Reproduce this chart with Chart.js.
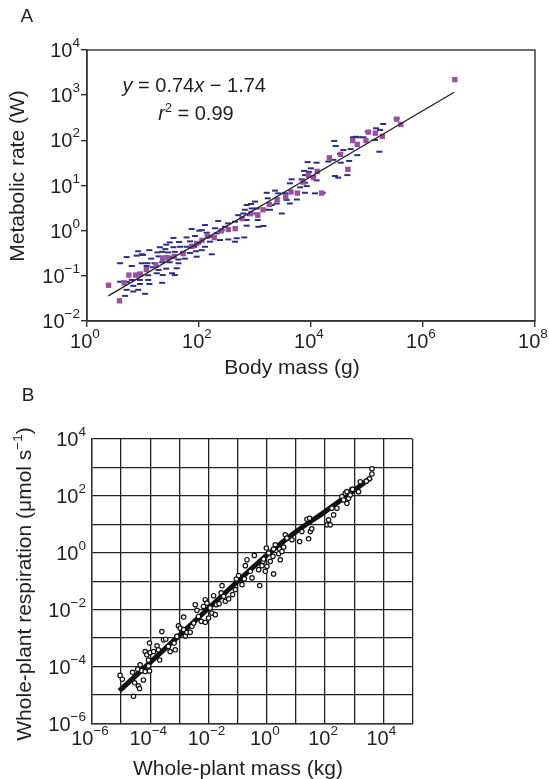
<!DOCTYPE html>
<html>
<head>
<meta charset="utf-8">
<script src="https://cdn.jsdelivr.net/npm/chart.js@4.4.0/dist/chart.umd.min.js"></script>
<style>
  html, body { margin: 0; padding: 0; background: #fff; }
  #wrap { position: relative; width: 549px; height: 779px; overflow: hidden; }
  canvas { position: absolute; left: 0; }
  #chartA { top: 0; }
  #chartB { top: 385px; }
</style>
</head>
<body>
<div id="wrap">
  <canvas id="chartA" width="549" height="385"></canvas>
  <canvas id="chartB" width="549" height="394"></canvas>
</div>
<script>
// ---- Panel A: body mass (g) vs metabolic rate (W) ----
const aXTicks = [1, 1e2, 1e4, 1e6, 1e8];
const aYTicks = [1e-2, 1e-1, 1, 1e1, 1e2, 1e3, 1e4];

// blue dashes [mass g, rate W]
const blueDashes = [
  [74,1.09],[101,1.0],[35,0.69],[60,0.71],[85,0.76],[30,0.55],[44,0.56],[69,0.58],[26,0.49],[20,0.43],
  [25,0.39],[35,0.43],[46,0.44],[60,0.44],[82,0.44],[88,0.35],[22,0.34],[28,0.33],[37,0.34],[52,0.34],
  [69,0.32],[13,0.37],[18,0.33],[8.2,0.35],[10,0.29],[14,0.24],[19,0.27],[25,0.27],[33,0.26],[43,0.23],
  [56,0.24],[5.1,0.26],[7.7,0.28],[9.5,0.3],[9.5,0.19],[12,0.19],[16,0.19],[22,0.2],[30,0.2],[43,0.19],
  [3.9,0.19],[6.3,0.165],[11.6,0.165],[15,0.155],[19,0.135],[26,0.144],[40,0.147],[33,0.114],[8.8,0.117],[12.4,0.103],
  [17.6,0.114],[22.5,0.104],[3.9,0.074],[5.1,0.073],[6.3,0.081],[8.8,0.081],[12.4,0.081],[6.7,0.06],[8.8,0.066],[13,0.066],
  [5.1,0.049],[8.2,0.049],[6.7,0.045],[10.9,0.04],[4.8,0.036],[22,0.07],[37,0.104],
  [8700,33],[12600,32],[10000,24],[9200,20],[12600,13],[8400,9.7],[11800,6.7],[6800,13.7],[4500,13.7],[4200,11.2],
  [6400,9.1],[5600,4.9],[7800,6.9],[3000,2.4],[1620,6.9],[1690,5.2],[2280,7.7],[2600,6.7],[3430,6.7],[3680,4.8],
  [2440,4.0],[1990,3.7],[1850,2.9],[4200,4.0],[1000,4.4],[850,3.9],[710,3.7],[870,3.1],[1070,3.1],[660,2.9],
  [810,2.2],[1070,2.4],[500,2.2],[620,2.4],[1510,2.9],[710,1.72],[1120,1.72],[710,1.29],[1410,1.27],[1150,1.22],
  [440,1.58],[330,1.45],[220,1.64],[290,1.22],[193,1.13],[254,1.03],[128,1.33],[112,1.03],[137,0.9],[207,0.87],
  [169,0.73],[334,0.64],[471,0.68],[644,0.71],[440,0.57],[237,0.62],[157,0.57],[128,0.44],[97,0.52],[112,0.37],
  [91,0.265],[169,0.3],
  [195000,230],[339000,308],[145000,185],[171000,169],[139000,102],[166000,56],[86000,117],[63000,120],[56000,117],[70000,117],
  [103000,155],[26000,97],[27600,75],[37800,61],[51000,64],[67000,47],[48000,35],[33000,50],[34000,32],[20400,34],
  [25000,37],[7500,21],[7800,17],[26800,16.2],[30700,14.9],[44500,17],[7800,11.5],[16200,6.9]
];

// purple squares [mass g, rate W]
const purpleSquares = [
  [2.43,0.062],[3.8,0.028],[4.6,0.07],[5.6,0.104],[7.4,0.104],[9.0,0.109],[11.5,0.138],[17,0.172],[22.5,0.24],[28,0.25],
  [36,0.27],[52,0.31],[74,0.45],[91,0.52],[113,0.61],[141,0.75],[187,0.70],[250,0.99],[333,1.06],[443,1.11],
  [590,1.85],[845,2.4],[1120,2.19],[1390,2.9],[1800,3.8],[2480,4.9],[3540,5.6],[4390,7.2],[5690,6.8],[7260,11.9],
  [9000,16.7],[11100,14.9],[12900,20.5],[15500,6.8],[21300,41],[33700,49],[45500,22.7],[55600,99],[67000,81],[95800,99],
  [106000,152],[141000,144],[188000,122],[338000,294],[402000,224],[3700000,2210]
];

// fitted line ends
const aFitMass = [2.4, 3.6e6];
const aFitRate = [0.036, 1160];

// ---- Panel B: whole-plant mass (kg) vs respiration (umol/s) ----
const bXTicks = [1e-6, 1e-5, 1e-4, 1e-3, 1e-2, 1e-1, 1, 1e1, 1e2, 1e3, 1e4, 1e5];
const bYTicks = [1e-6, 1e-5, 1e-4, 1e-3, 1e-2, 1e-1, 1, 1e1, 1e2, 1e3, 1e4];
const bXLabels = [1e-6, 1e-4, 1e-2, 1, 1e2, 1e4];
const bYLabels = [1e-6, 1e-4, 1e-2, 1, 1e2, 1e4];

const plantPoints = [
  [9.2e-6,4.9e-5],[1.1e-5,3.6e-5],[2.45e-5,6.3e-5],[3.7e-5,8.1e-5],[4.5e-5,1.15e-4],[5.1e-5,7.2e-5],[6.7e-5,6.7e-5],[8.7e-5,1.06e-4],
  [2.9e-5,2.7e-5],[3.9e-5,2.1e-5],[4.3e-5,1.7e-5],[5.8e-5,3.4e-5],[2.65e-5,9.0e-6],[9.4e-5,7.0e-5],[9.4e-5,6.7e-4],[6.7e-5,3.4e-4],
  [7.6e-5,2.6e-4],[8.7e-5,1.7e-4],[9.9e-5,3.1e-4],[1.3e-4,3.4e-4],[1.7e-4,5.4e-4],[1.9e-4,3.9e-4],[2.1e-4,1.7e-4],[2.5e-4,1.7e-3],
  [2.85e-4,8.7e-4],[3.4e-4,9.2e-4],[4.2e-4,5.1e-4],[4.8e-4,3.4e-4],[7.2e-4,3.9e-4],[6.6e-4,6.7e-4],[8.2e-4,1.15e-3],[9.3e-4,2.7e-3],
  [1.07e-3,2.25e-3],[1.4e-3,2.0e-3],[1.4e-3,5.5e-3],[1.6e-3,1.2e-3],[1.8e-3,1.6e-3],[2.35e-3,1.6e-3],[2.7e-3,2.6e-3],[3.1e-3,3.4e-3],
  [3.5e-3,0.015],[4.0e-3,9.5e-3],[4.5e-3,5.8e-3],[5.6e-3,3.9e-3],[6.7e-3,0.013],[7.7e-3,0.0225],[8.8e-3,0.017],[0.0114,0.0115],
  [0.013,7.6e-3],[0.0149,0.031],[0.017,6.7e-3],[7.7e-3,3.6e-3],[0.0184,0.015],[0.023,0.0163],[0.027,0.039],[0.033,0.0296],
  [0.029,0.070],[0.0375,0.0197],[0.049,0.024],[0.067,0.034],[0.083,0.051],[0.01,5.1e-3],
  [0.09,0.12],[0.108,0.158],[0.141,0.076],[0.169,0.121],[0.183,0.353],[0.209,0.573],[0.272,0.224],[0.31,0.131],
  [0.372,0.81],[0.525,0.256],[0.568,0.0705],[0.683,0.353],[0.74,0.5],[0.778,0.604],[0.889,0.224],[0.962,1.47],
  [1.01,0.335],[1.16,0.98],[1.32,0.5],[1.63,0.75],[1.71,1.35],[1.71,0.181],[1.95,1.92],[2.55,0.93],
  [2.75,1.35],[2.9,0.57],[3.3,1.12],[3.8,1.59],[4.3,4.3],[4.9,3.3],[7.3,2.87],[13.4,2.5],
  [16,5.6],[23.8,15.2],[29.4,16.4],[27.2,3.1],[31,5.6],[35,7.0],[116,9.6],[132,14.4],
  [150,9.6],[171,37],[196,21.5],[255,37],[378,94],[430,72],[491,123],[561,141],
  [640,82],[730,108],[832,170],[1410,141],[1610,315],[561,55],[877,170],
  [4060,900],[4060,590],[3300,400],[2600,330]
];

// thick fitted curve
const bLineMass = [8.7e-6, 1e-3, 0.1, 1, 10, 100, 1000, 3900];
const bLineResp = [1.4e-5, 1.26e-3, 0.1, 0.83, 5.5, 28, 158, 450];

// ---- drawing helpers ----
const FONT = "'Liberation Sans', Arial, Helvetica, sans-serif";
const INK = '#231f20';

function setFont(ctx, size, italic) {
  ctx.font = (italic ? 'italic ' : '') + size + 'px ' + FONT;
}

// segs: [text, size, italic, raise]
function drawRich(ctx, segs, x, y, align) {
  let total = 0;
  segs.forEach(s => { setFont(ctx, s[1], s[2]); total += ctx.measureText(s[0]).width; });
  let cx = x;
  if (align === 'right') cx = x - total;
  if (align === 'center') cx = x - total / 2;
  segs.forEach(s => {
    setFont(ctx, s[1], s[2]);
    ctx.fillText(s[0], cx, y - (s[3] || 0));
    cx += ctx.measureText(s[0]).width;
  });
}

function powSegs(v) {
  const e = Math.round(Math.log10(v));
  return [['10', 20], [(e < 0 ? '\u2212' : '') + Math.abs(e), 13.5, false, 10]];
}

function rotated(ctx, x, y, fn) {
  ctx.save();
  ctx.translate(x, y);
  ctx.rotate(-Math.PI / 2);
  fn();
  ctx.restore();
}

function logAxis(min, max, tickVals, grid, fitFn) {
  return {
    type: 'logarithmic',
    min: min,
    max: max,
    afterBuildTicks: s => { s.ticks = tickVals.map(v => ({ value: v })); },
    ticks: { display: false },
    grid: grid,
    border: { display: true, color: '#333', width: 1.4 },
    afterFit: fitFn
  };
}

const textA = {
  id: 'textA',
  afterDraw(chart) {
    const ctx = chart.ctx;
    const xs = chart.scales.x, ys = chart.scales.y, area = chart.chartArea;
    ctx.save();
    // box
    ctx.strokeStyle = '#333';
    ctx.lineWidth = 1.4;
    ctx.strokeRect(area.left, area.top, area.right - area.left, area.bottom - area.top);
    ctx.fillStyle = INK;
    ctx.textBaseline = 'alphabetic';
    ctx.textAlign = 'left';
    aXTicks.forEach(v => drawRich(ctx, powSegs(v), xs.getPixelForValue(v) - 2, 348, 'center'));
    aYTicks.forEach(v => drawRich(ctx, powSegs(v), 80, ys.getPixelForValue(v) + 7, 'right'));
    drawRich(ctx, [['Body mass (g)', 21]], 292, 374, 'center');
    rotated(ctx, 24, 176, () => drawRich(ctx, [['Metabolic rate (W)', 21]], 0, 0, 'center'));
    drawRich(ctx, [['A', 19]], 20.5, 22, 'left');
    drawRich(ctx, [['y', 20, true], [' = 0.74', 20], ['x', 20, true], [' \u2212 1.74', 20]], 122.5, 92, 'left');
    drawRich(ctx, [['r', 20, true], ['2', 12.5, false, 8], [' = 0.99', 20]], 158.3, 120, 'left');
    ctx.restore();
  }
};

const textB = {
  id: 'textB',
  afterDraw(chart) {
    const ctx = chart.ctx;
    const xs = chart.scales.x, ys = chart.scales.y;
    ctx.save();
    ctx.fillStyle = INK;
    ctx.textBaseline = 'alphabetic';
    ctx.textAlign = 'left';
    bXLabels.forEach(v => drawRich(ctx, powSegs(v), xs.getPixelForValue(v) - 2, 360, 'center'));
    bYLabels.forEach(v => drawRich(ctx, powSegs(v), 86, ys.getPixelForValue(v) + 7, 'right'));
    drawRich(ctx, [['Whole-plant mass (kg)', 21]], 238, 390, 'center');
    rotated(ctx, 31, 199, () => drawRich(ctx,
      [['Whole-plant respiration (\u03bcmol s', 21], ['\u22121', 13.5, false, 9], [')', 21]], 0, 0, 'center'));
    drawRich(ctx, [['B', 19]], 21.7, 16, 'left');
    ctx.restore();
  }
};

Chart.defaults.font.family = FONT;

// ---- chart A ----
new Chart(document.getElementById('chartA'), {
  type: 'scatter',
  data: {
    datasets: [
      {
        type: 'line',
        data: aFitMass.map((x, i) => ({ x: x, y: aFitRate[i] })),
        borderColor: '#222',
        borderWidth: 1.3,
        pointRadius: 0,
        fill: false
      },
      {
        data: purpleSquares.map(p => ({ x: p[0], y: p[1] })),
        pointStyle: 'rect',
        pointRadius: 3.8,
        backgroundColor: '#9b4f9e',
        borderWidth: 0
      },
      {
        data: blueDashes.map(p => ({ x: p[0], y: p[1] })),
        pointStyle: 'line',
        pointRadius: 3,
        borderColor: '#2b2e86',
        borderWidth: 2
      }
    ]
  },
  options: {
    responsive: false,
    animation: false,
    devicePixelRatio: 1,
    layout: { padding: { left: 0, right: 14, top: 50, bottom: 0 } },
    plugins: { legend: { display: false }, tooltip: { enabled: false } },
    scales: {
      x: logAxis(1, 1e8, aXTicks,
        { drawOnChartArea: false, drawTicks: true, tickLength: 6, color: '#333', lineWidth: 1.4 },
        s => { s.height = 64; }),
      y: logAxis(1e-2, 1e4, aYTicks,
        { drawOnChartArea: false, drawTicks: true, tickLength: 6, color: '#333', lineWidth: 1.4 },
        s => { s.width = 87; })
    }
  },
  plugins: [textA]
});

// ---- chart B ----
new Chart(document.getElementById('chartB'), {
  type: 'scatter',
  data: {
    datasets: [
      {
        data: plantPoints.map(p => ({ x: p[0], y: p[1] })),
        pointStyle: 'circle',
        pointRadius: 2.2,
        backgroundColor: '#fff',
        borderColor: '#111',
        borderWidth: 1.2
      },
      {
        type: 'line',
        data: bLineMass.map((x, i) => ({ x: x, y: bLineResp[i] })),
        borderColor: '#111',
        borderWidth: 5,
        tension: 0.3,
        pointRadius: 0,
        fill: false
      }
    ]
  },
  options: {
    responsive: false,
    animation: false,
    devicePixelRatio: 1,
    layout: { padding: { left: 0, right: 136.5, top: 54, bottom: 0 } },
    plugins: { legend: { display: false }, tooltip: { enabled: false } },
    scales: {
      x: logAxis(1e-6, 1e5, bXTicks,
        { drawOnChartArea: true, drawTicks: false, color: '#222', lineWidth: 1.3 },
        s => { s.height = 55.5; }),
      y: logAxis(1e-6, 1e4, bYTicks,
        { drawOnChartArea: true, drawTicks: false, color: '#222', lineWidth: 1.3 },
        s => { s.width = 92; })
    }
  },
  plugins: [textB]
});
</script>
</body>
</html>
